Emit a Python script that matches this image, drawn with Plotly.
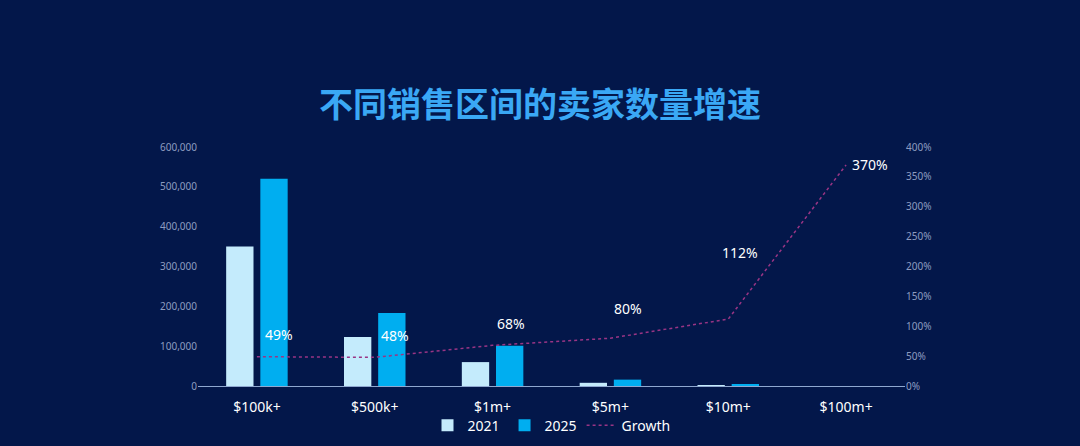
import plotly.graph_objects as go

categories = ["$100k+", "$500k+", "$1m+", "$5m+", "$10m+", "$100m+"]
sellers_2021 = [350000, 123000, 60000, 8000, 2000, 0]
sellers_2025 = [520000, 183000, 101000, 16000, 4000, 0]
growth = [49, 48, 68, 80, 112, 370]
growth_labels = ["49%", "48%", "68%", "80%", "112%", "370%"]
label_shift = [(22, 22), (20, 22), (18, 22), (18, 30), (12, 67), (24, 0)]

fig = go.Figure()
fig.add_bar(x=categories, y=sellers_2021, name="2021", marker_color="#c4ebfc", marker_line_width=0)
fig.add_bar(x=categories, y=sellers_2025, name="2025", marker_color="#00aef0", marker_line_width=0)
fig.add_scatter(x=categories, y=growth, name="Growth", yaxis="y2", mode="lines",
                line=dict(color="#9a3585", dash="dot", width=1.5))
for c, g, t, (dx, dy) in zip(categories, growth, growth_labels, label_shift):
    fig.add_annotation(x=c, y=g, yref="y2", text=t, showarrow=False, xshift=dx, yshift=dy,
                       font=dict(color="white", size=14, family="Noto Sans"))

fig.update_layout(
    width=1080, height=446, paper_bgcolor="#03174a", plot_bgcolor="#03174a",
    margin=dict(l=198, r=175, t=147, b=60, autoexpand=False),
    barmode="group", bargap=0.42, bargroupgap=0.2,
    title=dict(text="<b>不同销售区间的卖家数量增速</b>", x=0.5, y=0.765, xanchor="center", yanchor="middle",
               font=dict(size=34, color="#3aa8f5", family="Noto Sans CJK SC")),
    font=dict(family="Noto Sans", color="white"),
    xaxis=dict(showgrid=False, showline=True, linecolor="#8fa8d0", ticks="", ticklabelstandoff=8,
               tickfont=dict(size=14, color="white")),
    yaxis=dict(range=[0, 600000], dtick=100000, tickformat=",", showgrid=False, zeroline=False,
               tickfont=dict(size=10, color="#8d9cc0")),
    yaxis2=dict(overlaying="y", side="right", range=[0, 400], dtick=50, ticksuffix="%",
                showgrid=False, zeroline=False, tickfont=dict(size=10, color="#8d9cc0")),
    legend=dict(orientation="h", x=0.5, xanchor="center", yref="container", y=0.01, yanchor="bottom",
                font=dict(size=14, color="white"), bgcolor="rgba(0,0,0,0)"),
)
fig.write_html("out.html", config={"displayModeBar": False},
               post_script="document.body.style.margin='0';document.body.style.background='#03174a';")
